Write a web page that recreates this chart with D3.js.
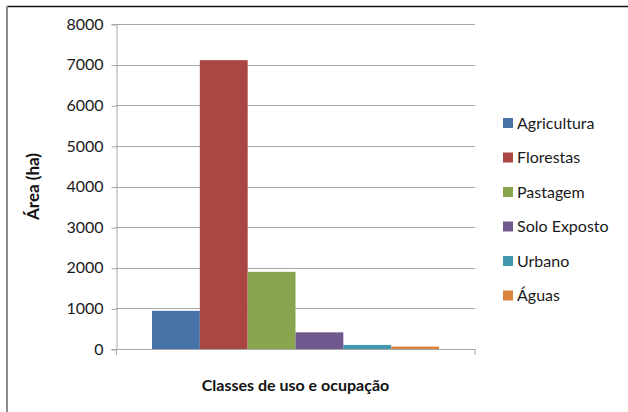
<!DOCTYPE html>
<html>
<head>
<meta charset="utf-8">
<script src="https://cdn.jsdelivr.net/npm/d3@7"></script>
<style>
  body { margin: 0; background: #fff; }
  svg { display: block; font-family: Lato, "Open Sans", sans-serif; }
</style>
</head>
<body>
<div id="chart"></div>
<script>
// Chart data
const categories = ["Agricultura", "Florestas", "Pastagem", "Solo Exposto", "Urbano", "Águas"];
const areas = [940, 7110, 1900, 410, 100, 60];
const colors = ["#4572A7", "#AA4643", "#89A54E", "#71588F", "#4198AF", "#DB843D"];
const yTicks = [0, 1000, 2000, 3000, 4000, 5000, 6000, 7000, 8000];
const yTitle = "Área (ha)";
const xTitle = "Classes de uso e ocupação";

const width = 628;
const height = 412;
const marginTop = 24;
const marginLeft = 116;
const plotRight = 475;
const plotBottom = 349;

const svg = d3.select("#chart").append("svg")
    .attr("width", width)
    .attr("height", height)
    .attr("viewBox", [0, 0, width, height]);

// Outer frame (only top and left visible in the crop)
svg.append("line")
    .attr("x1", 7).attr("x2", width).attr("y1", 6.5).attr("y2", 6.5)
    .attr("stroke", "#111").attr("stroke-width", 1.5);
svg.append("line")
    .attr("x1", 7).attr("x2", 7).attr("y1", 6).attr("y2", height)
    .attr("stroke", "#8c8c8c").attr("stroke-width", 2);

// Scales
const x = d3.scaleBand()
    .domain(categories)
    .range([152, 439])
    .padding(0);

const y = d3.scaleLinear()
    .domain([0, 8000])
    .range([plotBottom, marginTop]);

// Gridlines
svg.append("g")
    .selectAll("line")
    .data(yTicks.filter(d => d > 0))
    .join("line")
    .attr("x1", marginLeft).attr("x2", plotRight)
    .attr("y1", d => Math.round(y(d)) + 0.5)
    .attr("y2", d => Math.round(y(d)) + 0.5)
    .attr("stroke", "#a6a6a6");

// Y axis
svg.append("g")
    .attr("transform", `translate(${marginLeft + 0.5},0)`)
    .call(d3.axisLeft(y).tickValues(yTicks).tickSize(5).tickPadding(8).tickFormat(d3.format("d")))
    .call(g => g.selectAll("line, path").attr("stroke", "#a6a6a6"))
    .call(g => g.selectAll(".tick line").attr("transform", "translate(0,0.5)"))
    .call(g => g.selectAll("text").attr("font-size", 16).attr("fill", "#1a1a1a")
        .attr("font-family", "Lato, 'Open Sans', sans-serif"));

// Bars
svg.append("g")
    .selectAll("rect")
    .data(categories)
    .join("rect")
    .attr("x", d => x(d))
    .attr("y", (d, i) => y(areas[i]))
    .attr("width", x.bandwidth())
    .attr("height", (d, i) => y(0) - y(areas[i]))
    .attr("fill", (d, i) => colors[i]);

// X axis baseline
svg.append("line")
    .attr("x1", marginLeft).attr("x2", plotRight + 0.5)
    .attr("y1", plotBottom + 0.5).attr("y2", plotBottom + 0.5)
    .attr("stroke", "#a6a6a6");
svg.append("line")
    .attr("x1", plotRight).attr("x2", plotRight)
    .attr("y1", plotBottom).attr("y2", plotBottom + 6)
    .attr("stroke", "#a6a6a6");
svg.append("line")
    .attr("x1", marginLeft + 0.5).attr("x2", marginLeft + 0.5)
    .attr("y1", plotBottom).attr("y2", plotBottom + 6)
    .attr("stroke", "#a6a6a6");

// Axis titles
svg.append("text")
    .attr("transform", `translate(39,${(marginTop + plotBottom) / 2}) rotate(-90)`)
    .attr("text-anchor", "middle")
    .attr("font-size", 17)
    .attr("font-weight", "bold")
    .attr("fill", "#111")
    .text(yTitle);

svg.append("text")
    .attr("x", (marginLeft + plotRight) / 2)
    .attr("y", 391)
    .attr("text-anchor", "middle")
    .attr("font-size", 16)
    .attr("font-weight", "bold")
    .attr("fill", "#111")
    .text(xTitle);

// Legend
const legend = svg.append("g")
    .selectAll("g")
    .data(categories)
    .join("g")
    .attr("transform", (d, i) => `translate(503,${123 + i * 34.5})`);

legend.append("rect")
    .attr("x", 0).attr("y", -5)
    .attr("width", 10).attr("height", 10)
    .attr("fill", (d, i) => colors[i]);

legend.append("text")
    .attr("x", 14)
    .attr("dy", "0.35em")
    .attr("font-size", 16)
    .attr("fill", "#1a1a1a")
    .text(d => d);
</script>
</body>
</html>
